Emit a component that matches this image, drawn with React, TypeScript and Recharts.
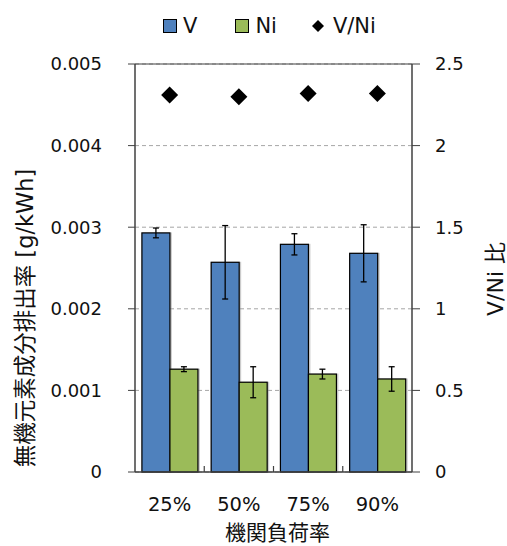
import React from 'react';
import { ComposedChart, Bar, Line, XAxis, YAxis, CartesianGrid, ErrorBar, ReferenceLine } from 'recharts';

// engine load categories
const loads = ['25%', '50%', '75%', '90%'];
// emission rates [g/kWh] with +/- spread
const vRate = [0.00293, 0.00257, 0.00279, 0.00268];
const vErr = [0.00006, 0.00045, 0.00013, 0.00035];
const niRate = [0.00126, 0.00110, 0.00120, 0.00114];
const niErr = [0.00003, 0.00019, 0.00006, 0.00015];
// V/Ni ratio (right axis)
const ratio = [2.31, 2.30, 2.32, 2.32];

const leftTicks = [0, 0.001, 0.002, 0.003, 0.004, 0.005];
const rightTicks = [0, 0.5, 1, 1.5, 2, 2.5];

const data = loads.map((load, i) => ({
  load,
  v: vRate[i],
  vErr: vErr[i],
  ni: niRate[i],
  niErr: niErr[i],
  ratio: ratio[i],
}));

const FONT = "'DejaVu Sans', 'Noto Sans CJK JP', sans-serif";
const AXIS = '#404040';
const BLUE = '#4f81bd';
const GREEN = '#9bbb59';

const W = 507;
const H = 546;
const LEFT_W = 135;
const RIGHT_W = 95;
const TOP = 64;
const XAXIS_H = 74;
const BAND = (W - LEFT_W - RIGHT_W) / loads.length;

// bar with a soft grey shadow and black outline
const ShadowBar = (props: any) => {
  const { x, y, width, height, fill } = props;
  if (!height || height <= 0) return null;
  return (
    <g>
      <rect x={x - 0.5} y={y - 0.5} width={width + 2.5} height={height + 1.5} fill="#8c8c8c" opacity={0.45} />
      <rect x={x} y={y} width={width} height={height} fill={fill} stroke="#000" strokeWidth={1.2} />
    </g>
  );
};

const Diamond = ({ cx, cy, r }: any) => (
  <polygon points={`${cx},${cy - r} ${cx + r},${cy} ${cx},${cy + r} ${cx - r},${cy}`} fill="#000" />
);

const LoadTick = (props: any) => {
  const { x, y, payload, index } = props;
  return (
    <g>
      <text x={x} y={y + 39} textAnchor="middle" fontSize={19.5} fontFamily={FONT} fill="#111">
        {payload.value}
      </text>
      {index < loads.length - 1 && (
        <line x1={x + BAND / 2} y1={y} x2={x + BAND / 2} y2={y - 6} stroke={AXIS} strokeWidth={1.2} />
      )}
    </g>
  );
};

const LeftTitle = (props: any) => {
  const { viewBox } = props;
  const cx = viewBox.x + 25;
  const cy = viewBox.y + viewBox.height / 2 + 50;
  return (
    <text x={cx} y={cy} transform={`rotate(-90 ${cx} ${cy})`} textAnchor="middle" dominantBaseline="central"
      fontSize={22.5} fontFamily={FONT} fill="#111">
      無機元素成分排出率 [g/kWh]
    </text>
  );
};

const RightTitle = (props: any) => {
  const { viewBox } = props;
  const cx = viewBox.x + 83;
  const cy = viewBox.y + viewBox.height / 2 + 11;
  return (
    <text x={cx} y={cy} transform={`rotate(-90 ${cx} ${cy})`} textAnchor="middle" dominantBaseline="central"
      fontSize={22} fontFamily={FONT} fill="#111">
      V/Ni 比
    </text>
  );
};

const BottomTitle = (props: any) => {
  const { viewBox } = props;
  return (
    <text x={viewBox.x + viewBox.width / 2 + 4} y={viewBox.y + 68} textAnchor="middle"
      fontSize={21} fontFamily={FONT} fill="#111">
      機関負荷率
    </text>
  );
};

const legendText: React.CSSProperties = { fontSize: 21, fontFamily: FONT, color: '#111', lineHeight: '24px' };
const swatch = (color: string): React.CSSProperties => ({
  width: 14, height: 14, background: color, border: '1px solid #000', boxSizing: 'border-box', marginRight: 6,
});

export default function App() {
  return (
    <div style={{ position: 'absolute', left: 0, top: 0, width: W, height: H, background: '#fff' }}>
      <div style={{ position: 'absolute', left: 163, top: 14, display: 'flex', alignItems: 'center' }}>
        <div style={swatch(BLUE)} />
        <span style={legendText}>V</span>
        <div style={{ ...swatch(GREEN), marginLeft: 38 }} />
        <span style={legendText}>Ni</span>
        <svg width={14} height={14} style={{ marginLeft: 34, marginRight: 8 }}>
          <polygon points="7,1 13,7 7,13 1,7" fill="#000" />
        </svg>
        <span style={legendText}>V/Ni</span>
      </div>
      <ComposedChart
        width={W}
        height={H}
        data={data}
        margin={{ top: TOP, right: 0, bottom: 0, left: 0 }}
        barCategoryGap="10%"
        barGap={0}
      >
        <CartesianGrid yAxisId="left" vertical={false} stroke="#a6a6a6" strokeDasharray="4 3" />
        <XAxis
          dataKey="load"
          height={XAXIS_H}
          axisLine={{ stroke: AXIS, strokeWidth: 1.5 }}
          tickLine={false}
          tickSize={0}
          tickMargin={0}
          interval={0}
          tick={<LoadTick />}
          label={<BottomTitle />}
        />
        <YAxis
          yAxisId="left"
          width={LEFT_W}
          domain={[0, 0.005]}
          ticks={leftTicks}
          tickFormatter={(v: number) => (v === 0 ? '0' : v.toFixed(3))}
          axisLine={{ stroke: AXIS, strokeWidth: 1.5 }}
          tickLine={{ stroke: AXIS }}
          tickSize={7}
          tickMargin={26}
          tick={{ fontSize: 18, fontFamily: FONT, fill: '#111' }}
          label={<LeftTitle />}
        />
        <YAxis
          yAxisId="right"
          orientation="right"
          width={RIGHT_W}
          domain={[0, 2.5]}
          ticks={rightTicks}
          axisLine={{ stroke: AXIS, strokeWidth: 1.5 }}
          tickLine={{ stroke: AXIS }}
          tickSize={8}
          tickMargin={15}
          tick={{ fontSize: 18, fontFamily: FONT, fill: '#111', textAnchor: 'start' }}
          label={<RightTitle />}
        />
        <ReferenceLine yAxisId="left" y={0.005} stroke={AXIS} strokeWidth={1.2} />
        <Bar yAxisId="left" dataKey="v" fill={BLUE} shape={<ShadowBar />} isAnimationActive={false}>
          <ErrorBar dataKey="vErr" width={3} stroke="#000" strokeWidth={1.3} />
        </Bar>
        <Bar yAxisId="left" dataKey="ni" fill={GREEN} shape={<ShadowBar />} isAnimationActive={false}>
          <ErrorBar dataKey="niErr" width={3} stroke="#000" strokeWidth={1.3} />
        </Bar>
        <Line
          yAxisId="right"
          dataKey="ratio"
          stroke="none"
          dot={(p: any) => <Diamond key={p.index} cx={p.cx} cy={p.cy} r={8.5} />}
          activeDot={false}
          isAnimationActive={false}
        />
      </ComposedChart>
    </div>
  );
}
